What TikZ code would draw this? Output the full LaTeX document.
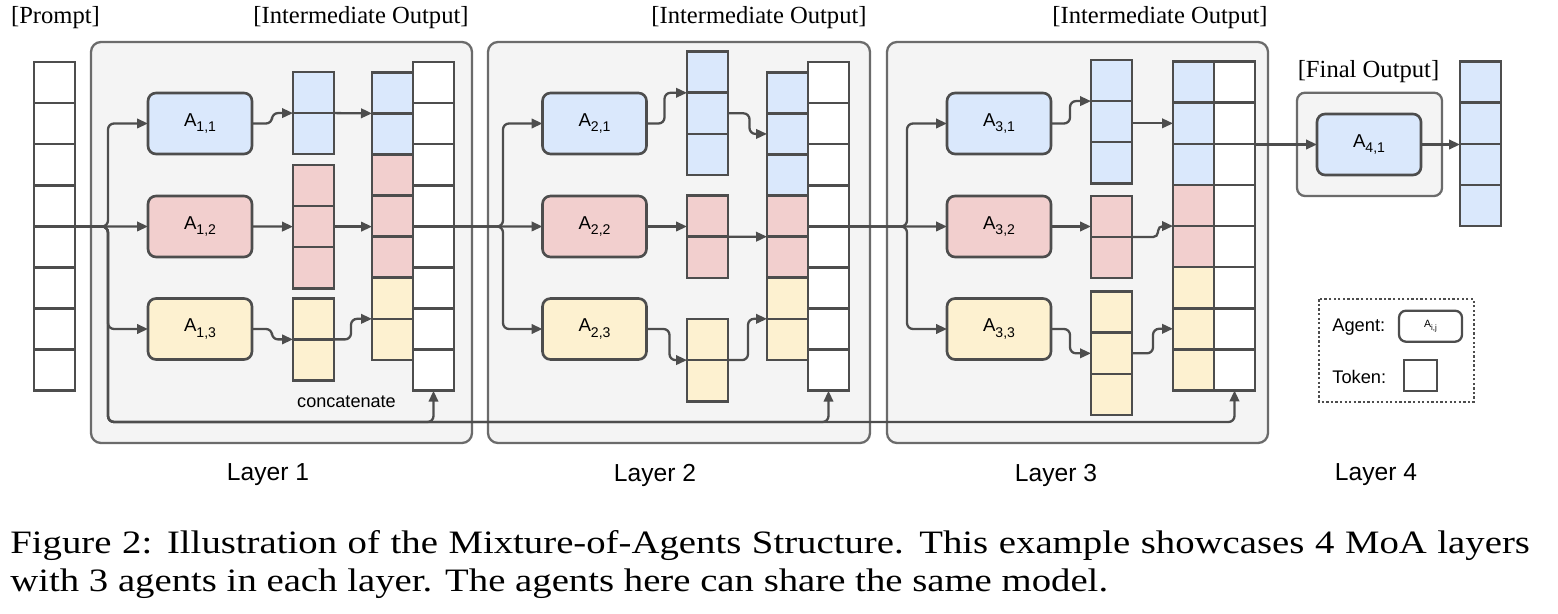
\documentclass[tikz,border=0pt]{standalone}
\usepackage{fontspec}
\setmainfont{Liberation Serif}
\setsansfont{Liberation Sans}
\usetikzlibrary{calc, positioning, arrows.meta}
\definecolor{lc}{HTML}{4D4D4D}
\definecolor{boxc}{HTML}{6B6B6B}
\definecolor{boxbg}{HTML}{F4F4F4}
\definecolor{tblue}{HTML}{DAE8FC}
\definecolor{tred}{HTML}{F2CFCE}
\definecolor{tyel}{HTML}{FDF1D0}
\def\cellh{0.822cm}
\newcommand{\agname}[1]{A\raisebox{-0.55ex}{\fontsize{8}{9}\selectfont #1}}
\tikzset{>={Triangle[length=0.22cm,width=0.19cm]},
  tok/.style={draw=lc, fill=white, line width=1.5pt, inner sep=0pt, outer sep=0pt, anchor=north west,
    minimum width=0.82cm, minimum height=#1*\cellh,
    path picture={\pgfmathtruncatemacro\nn{#1-1}
      \foreach \k in {1,...,\nn}{\draw[lc, line width=1.5pt] ([yshift=-\k*\cellh]path picture bounding box.north west) -- ([yshift=-\k*\cellh]path picture bounding box.north east);}}},
  agent/.style={draw=lc, line width=1.5pt, rounded corners=0.16cm, inner sep=0pt, outer sep=0pt,
    minimum width=2.08cm, minimum height=1.22cm, font=\sffamily\fontsize{10.6}{12}\selectfont},
  layerbox/.style={draw=boxc, fill=boxbg, line width=1.3pt, rounded corners=0.2cm},
  conn/.style={draw=lc, line width=1.3pt, rounded corners=0.12cm},
  ttl/.style={font=\fontsize{14}{16}\selectfont, inner sep=0pt},
  laylbl/.style={font=\sffamily\fontsize{14}{16}\selectfont, inner sep=0pt},
  captxt/.style={anchor=base west, inner sep=0pt, font=\fontsize{18.6}{22}\selectfont}}

\begin{document}
\begin{tikzpicture}[x=0.02cm, y=-0.02cm]
\useasboundingbox (0,0) rectangle (1558,614);
\coordinate (cbus) at (0,422);

\draw[layerbox] (91,42) rectangle (472,443);
\draw[layerbox] (488,42) rectangle (870,443);
\draw[layerbox] (887,42) rectangle (1268,443);
\draw[layerbox, rounded corners=0.16cm] (1297,92.7) rectangle (1442,196);

\node[ttl] (tprompt) at (55.5,18) {[Prompt]};
\node[ttl] (tint1) at (361,18) {[Intermediate Output]};
\node[ttl] (tint2) at (759,18) {[Intermediate Output]};
\node[ttl] (tint3) at (1160,18) {[Intermediate Output]};
\node[ttl] (tfinal) at (1368.5,71.7) {[Final Output]};

% layer 1
\node[tok=8] (prompt) at (34,62) {};
\node[agent, fill=tblue] (a11) at (200,123.5) {\agname{1,1}};
\node[agent, fill=tred] (a12) at (200,226.5) {\agname{1,2}};
\node[agent, fill=tyel] (a13) at (200,329) {\agname{1,3}};
\node[tok=2, fill=tblue] (o11) at (293,72) {};
\node[tok=3, fill=tred] (o12) at (293,165) {};
\node[tok=2, fill=tyel] (o13) at (293,298.3) {};
\node[tok=2, fill=tblue] (k1b) at (372,72.3) {};
\node[tok=3, fill=tred, below=0pt of k1b] (k1r) {};
\node[tok=2, fill=tyel, below=0pt of k1r] (k1y) {};
\node[tok=8] (p1) at (413,62) {};
\node[font=\sffamily\fontsize{10.3}{12}\selectfont] (tconcat) at (346.5,401.7) {concatenate};

\coordinate (b1) at (108,226.5);
\draw[conn,->] (prompt.east) -- (b1) |- (a11.west);
\draw[conn,->] (prompt.east) -- (a12.west);
\draw[conn,->] (prompt.east) -- (b1) |- (a13.west);
\draw[conn,->] (a11.east) -| ([xshift=-0.42cm]o11.west) -- (o11.west);
\draw[conn,->] (o11.east) -- (k1b.west);
\draw[conn,->] (a12.east) -- (o12.west);
\draw[conn,->] (o12.east) -- (o12.east -| k1r.west);
\draw[conn,->] (a13.east) -| ([xshift=-0.42cm]o13.west) -- (o13.west);
\draw[conn,->] (o13.east) -| ([xshift=-0.42cm]k1y.west) -- (k1y.west);

% layer 2
\node[agent, fill=tblue] (a21) at (594.5,123.5) {\agname{2,1}};
\node[agent, fill=tred] (a22) at (594.5,226.5) {\agname{2,2}};
\node[agent, fill=tyel] (a23) at (594.5,329) {\agname{2,3}};
\node[tok=3, fill=tblue] (o21) at (687,51.7) {};
\node[tok=2, fill=tred] (o22) at (687,195.7) {};
\node[tok=2, fill=tyel] (o23) at (687,319) {};
\node[tok=3, fill=tblue] (k2b) at (767,72.3) {};
\node[tok=2, fill=tred, below=0pt of k2b] (k2r) {};
\node[tok=2, fill=tyel, below=0pt of k2r] (k2y) {};
\node[tok=8] (p2) at (808,62) {};

\coordinate (b2) at (503,226.5);
\coordinate (o21in) at ($(o21.north west)+(0,41.1)$);
\draw[conn,->] (p1.east) -- (b2) |- (a21.west);
\draw[conn,->] (p1.east) -- (a22.west);
\draw[conn,->] (p1.east) -- (b2) |- (a23.west);
\draw[conn,->] (a21.east) -| ([xshift=-0.45cm]o21in) -- (o21in);
\draw[conn,->] (o21.east) -| ([xshift=-0.35cm]k2b.west) -- (k2b.west);
\draw[conn,->] (a22.east) -- (a22.east -| o22.west);
\draw[conn,->] (o22.east) -- (k2r.west);
\draw[conn,->] (a23.east) -| ([xshift=-0.35cm]o23.west) -- (o23.west);
\draw[conn,->] (o23.east) -| ([xshift=-0.38cm]k2y.west) -- (k2y.west);

% layer 3
\node[agent, fill=tblue] (a31) at (999,123.5) {\agname{3,1}};
\node[agent, fill=tred] (a32) at (999,226.5) {\agname{3,2}};
\node[agent, fill=tyel] (a33) at (999,329) {\agname{3,3}};
\node[tok=3, fill=tblue] (o31) at (1091,60) {};
\node[tok=2, fill=tred] (o32) at (1091,196) {};
\node[tok=3, fill=tyel] (o33) at (1091,291.7) {};
\node[tok=3, fill=tblue] (k3b) at (1173,61.7) {};
\node[tok=2, fill=tred, below=0pt of k3b] (k3r) {};
\node[tok=3, fill=tyel, below=0pt of k3r] (k3y) {};
\node[tok=8] (p3) at (1214,61.7) {};

\coordinate (b3) at (907,226.5);
\coordinate (o31in) at ($(o31.north west)+(0,41.1)$);
\draw[conn,->] (p2.east) -- (b3) |- (a31.west);
\draw[conn,->] (p2.east) -- (a32.west);
\draw[conn,->] (p2.east) -- (b3) |- (a33.west);
\draw[conn,->] (a31.east) -| ([xshift=-0.42cm]o31in) -- (o31in);
\draw[conn,->] (o31.east |- k3b.west) -- (k3b.west);
\draw[conn,->] (a32.east) -- (a32.east -| o32.west);
\draw[conn,->, rounded corners=0.1cm] (o32.east) -| ([xshift=-0.3cm]k3r.west) -- (k3r.west);
\draw[conn,->] (a33.east) -| ([xshift=-0.42cm]o33.west) -- (o33.west);
\draw[conn,->] (o33.east) -| ([xshift=-0.4cm]k3y.west) -- (k3y.west);

% prompt copied under every layer
\draw[conn,->] (prompt.east) -- (b1) |- (p3.south |- cbus) -- (p3.south);
\draw[conn,->] (prompt.east) -- (b1) |- (p2.south |- cbus) -- (p2.south);
\draw[conn,->] (prompt.east) -- (b1) |- (p1.south |- cbus) -- (p1.south);

% layer 4
\node[agent, fill=tblue] (a41) at (1369,144.5) {\agname{4,1}};
\node[tok=4, fill=tblue] (fin) at (1460,61.7) {};
\draw[conn,->] (p3.east |- a41.west) -- (a41.west);
\draw[conn,->] (a41.east) -- (a41.east -| fin.west);

% legend
\draw[lc, line width=1.3pt, dash pattern=on 1.3pt off 1.3pt] (1319,299.3) rectangle (1474,401.7);
\node[anchor=west, inner sep=0pt, font=\sffamily\fontsize{10.4}{12}\selectfont] (lgagent) at (1332,326.7) {Agent:};
\node[draw=lc, fill=white, line width=1.3pt, rounded corners=0.14cm, minimum width=1.26cm, minimum height=0.62cm, inner sep=0pt,
  font=\sffamily\fontsize{6}{7}\selectfont] (lgbox) at (1430.5,326.2) {A\raisebox{-0.5ex}{\fontsize{4.5}{5}\selectfont i,j}};
\node[anchor=west, inner sep=0pt, font=\sffamily\fontsize{10.4}{12}\selectfont] (lgtok) at (1332,376.7) {Token:};
\node[draw=lc, fill=white, line width=1.3pt, minimum width=0.66cm, minimum height=0.62cm, inner sep=0pt] (lgcell) at (1420.5,375.5) {};

\node[laylbl] (lay1) at (268,475) {Layer 1};
\node[laylbl] (lay2) at (655,475) {Layer 2};
\node[laylbl] (lay3) at (1056,475) {Layer 3};
\node[laylbl] (lay4) at (1376,475) {Layer 4};

\node[captxt] (cap1) at (10,553)
  {\scalebox{1.186}[1]{\makebox[25.63cm][s]{Figure 2: Illustration of the Mixture-of-Agents Structure. This example showcases 4 MoA layers}}};
\node[captxt] (cap2) at (10,591)
  {\scalebox{1.186}[1]{with 3 agents in each layer. The agents here can share the same model.}};
\end{tikzpicture}
\end{document}
